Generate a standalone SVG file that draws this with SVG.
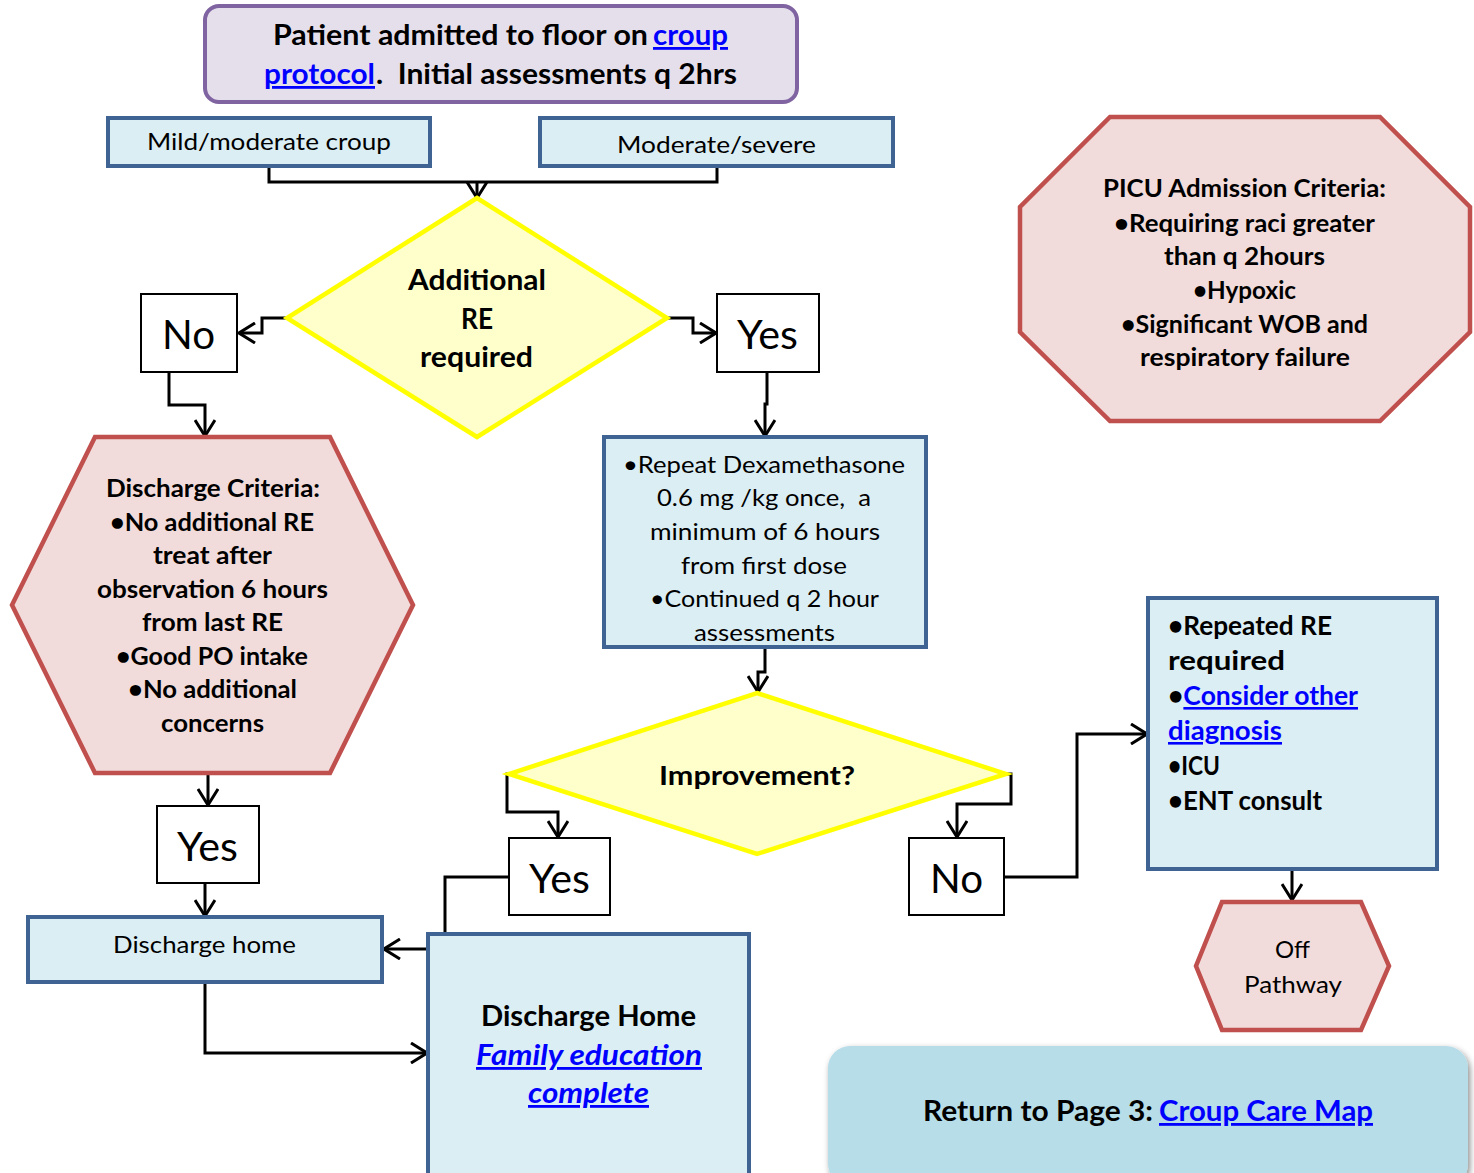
<svg xmlns="http://www.w3.org/2000/svg" width="1474" height="1173" viewBox="0 0 1474 1173">
<style>
text{font-family:Lato,"Open Sans","Liberation Sans",sans-serif;fill:#000}
.b{font-weight:bold}
.lnk{fill:#0000ff;text-decoration:underline}
.blue{fill:#dbeef4;stroke:#3f6392;stroke-width:4}
.pink{fill:#f2dcdb;stroke:#c0504d;stroke-width:4.5}
.dia{fill:#ffffcc;stroke:#ffff00;stroke-width:4.5}
.lab{fill:#fff;stroke:#000;stroke-width:2}
.c{fill:none;stroke:#000;stroke-width:3}
.m{fill:none;stroke:#000;stroke-width:3;marker-end:url(#arr)}
</style>
<defs>
<marker id="arr" viewBox="0 0 18 22" refX="17" refY="11" markerWidth="18" markerHeight="22" orient="auto" markerUnits="userSpaceOnUse">
<path d="M1,1 L17,11 L1,21" fill="none" stroke="#000" stroke-width="3"/>
</marker>
<filter id="sh" x="-5%" y="-10%" width="110%" height="130%">
<feDropShadow dx="2" dy="3" stdDeviation="3" flood-color="#000" flood-opacity="0.45"/>
</filter>
</defs>

<g id="connectors">
<path class="c" d="M269,166 V182 H717 V166"/>
<path class="m" d="M477,182 V198"/>
<path class="m" d="M287,318 H262 V333 H239"/>
<path class="m" d="M667,318 H693 V333 H716"/>
<path class="m" d="M169,372 V405 H205 V436"/>
<path class="m" d="M767,372 V404 H765 V436"/>
<path class="m" d="M765,647 V672 H758 V692"/>
<path class="m" d="M509,774 H507 V812 H558 V837"/>
<path class="m" d="M1006,774 H1011 V804 H957 V837"/>
<path class="m" d="M208,773 V805"/>
<path class="m" d="M205,883 V916"/>
<path class="m" d="M509,877 H445 V949 H384"/>
<path class="m" d="M205,982 V1053 H427"/>
<path class="m" d="M1004,877 H1077 V734 H1147"/>
<path class="m" d="M1292,869 V900"/>
</g>

<g id="top">
<rect x="205" y="6" width="592" height="96" rx="14" fill="#e5dfec" stroke="#8064a2" stroke-width="4"/>
<text class="b" font-size="28" x="273" y="45" textLength="375" lengthAdjust="spacingAndGlyphs">Patient admitted to floor on</text>
<text class="b lnk" font-size="28" x="653" y="45" textLength="75" lengthAdjust="spacingAndGlyphs">croup</text>
<text class="b lnk" font-size="28" x="264" y="84" textLength="111" lengthAdjust="spacingAndGlyphs">protocol</text>
<text class="b" font-size="28" x="376" y="84" textLength="361" lengthAdjust="spacingAndGlyphs" xml:space="preserve">.  Initial assessments q 2hrs</text>
</g>

<g id="mild">
<rect class="blue" x="108" y="118" width="322" height="48"/>
<text font-size="24" x="147" y="150" textLength="244" lengthAdjust="spacingAndGlyphs">Mild/moderate croup</text>
</g>
<g id="severe">
<rect class="blue" x="540" y="118" width="353" height="48"/>
<text font-size="24" x="617" y="153" textLength="199" lengthAdjust="spacingAndGlyphs">Moderate/severe</text>
</g>

<g id="diamond1">
<polygon class="dia" points="477,198 667,318 477,437 287,318"/>
<text class="b" font-size="28" x="408" y="290" textLength="138" lengthAdjust="spacingAndGlyphs">Additional</text>
<text class="b" font-size="28" x="461" y="329" textLength="32" lengthAdjust="spacingAndGlyphs">RE</text>
<text class="b" font-size="28" x="420" y="367" textLength="113" lengthAdjust="spacingAndGlyphs">required</text>
</g>

<g id="no1">
<rect class="lab" x="141" y="294" width="96" height="78"/>
<text font-size="40" x="162" y="349" textLength="53" lengthAdjust="spacingAndGlyphs">No</text>
</g>
<g id="yes1">
<rect class="lab" x="717" y="294" width="102" height="78"/>
<text font-size="40" x="737" y="349" textLength="61" lengthAdjust="spacingAndGlyphs">Yes</text>
</g>

<g id="discharge-criteria">
<polygon class="pink" points="95,437 330,437 413,605 330,773 95,773 12,605"/>
<text class="b" font-size="24" x="106" y="497" textLength="214" lengthAdjust="spacingAndGlyphs">Discharge Criteria:</text>
<text class="b" font-size="24" x="110" y="531" textLength="204" lengthAdjust="spacingAndGlyphs">•No additional RE</text>
<text class="b" font-size="24" x="153" y="564" textLength="119" lengthAdjust="spacingAndGlyphs">treat after</text>
<text class="b" font-size="24" x="97" y="598" textLength="231" lengthAdjust="spacingAndGlyphs">observation 6 hours</text>
<text class="b" font-size="24" x="142" y="631" textLength="141" lengthAdjust="spacingAndGlyphs">from last RE</text>
<text class="b" font-size="24" x="116" y="665" textLength="192" lengthAdjust="spacingAndGlyphs">•Good PO intake</text>
<text class="b" font-size="24" x="128" y="698" textLength="169" lengthAdjust="spacingAndGlyphs">•No additional</text>
<text class="b" font-size="24" x="161" y="732" textLength="103" lengthAdjust="spacingAndGlyphs">concerns</text>
</g>

<g id="dexamethasone">
<rect class="blue" x="604" y="437" width="322" height="210"/>
<text font-size="24" x="623" y="473" textLength="282" lengthAdjust="spacingAndGlyphs">•Repeat Dexamethasone</text>
<text font-size="24" x="657" y="506" textLength="214" lengthAdjust="spacingAndGlyphs" xml:space="preserve">0.6 mg /kg once,  a</text>
<text font-size="24" x="650" y="540" textLength="230" lengthAdjust="spacingAndGlyphs">minimum of 6 hours</text>
<text font-size="24" x="681" y="574" textLength="166" lengthAdjust="spacingAndGlyphs">from first dose</text>
<text font-size="24" x="650" y="607" textLength="229" lengthAdjust="spacingAndGlyphs">•Continued q 2 hour</text>
<text font-size="24" x="694" y="641" textLength="141" lengthAdjust="spacingAndGlyphs">assessments</text>
</g>

<g id="diamond2">
<polygon class="dia" points="757,693 1006,774 757,854 509,774"/>
<text class="b" font-size="27" x="659" y="785" textLength="196" lengthAdjust="spacingAndGlyphs">Improvement?</text>
</g>

<g id="yes2">
<rect class="lab" x="509" y="838" width="101" height="77"/>
<text font-size="40" x="529" y="893" textLength="61" lengthAdjust="spacingAndGlyphs">Yes</text>
</g>
<g id="no2">
<rect class="lab" x="909" y="838" width="95" height="77"/>
<text font-size="40" x="930" y="893" textLength="53" lengthAdjust="spacingAndGlyphs">No</text>
</g>
<g id="yes3">
<rect class="lab" x="157" y="806" width="102" height="77"/>
<text font-size="40" x="177" y="861" textLength="61" lengthAdjust="spacingAndGlyphs">Yes</text>
</g>

<g id="discharge-home">
<rect class="blue" x="28" y="917" width="354" height="65"/>
<text font-size="24" x="113" y="953" textLength="183" lengthAdjust="spacingAndGlyphs">Discharge home</text>
</g>

<g id="discharge-home-final">
<rect class="blue" x="428" y="934" width="321" height="250"/>
<text class="b" font-size="28" x="481" y="1026" textLength="215" lengthAdjust="spacingAndGlyphs">Discharge Home</text>
<text class="b lnk" font-size="28" font-style="italic" x="476" y="1065" textLength="226" lengthAdjust="spacingAndGlyphs">Family education</text>
<text class="b lnk" font-size="28" font-style="italic" x="528" y="1103" textLength="121" lengthAdjust="spacingAndGlyphs">complete</text>
</g>

<g id="repeated-re">
<rect class="blue" x="1148" y="598" width="289" height="271"/>
<text class="b" font-size="26" x="1168" y="635" textLength="164" lengthAdjust="spacingAndGlyphs">•Repeated RE</text>
<text class="b" font-size="26" x="1168" y="670" textLength="117" lengthAdjust="spacingAndGlyphs">required</text>
<text class="b" font-size="26" x="1168" y="705" textLength="190" lengthAdjust="spacingAndGlyphs">•<tspan class="lnk">Consider other</tspan></text>
<text class="b lnk" font-size="26" x="1168" y="740" textLength="114" lengthAdjust="spacingAndGlyphs">diagnosis</text>
<text class="b" font-size="26" x="1168" y="775" textLength="52" lengthAdjust="spacingAndGlyphs">•ICU</text>
<text class="b" font-size="26" x="1168" y="810" textLength="154" lengthAdjust="spacingAndGlyphs">•ENT consult</text>
</g>

<g id="off-pathway">
<polygon class="pink" points="1222,902 1361,902 1389,966 1361,1030 1222,1030 1196,966"/>
<text font-size="24" x="1275" y="958" textLength="35" lengthAdjust="spacingAndGlyphs">Off</text>
<text font-size="24" x="1244" y="993" textLength="98" lengthAdjust="spacingAndGlyphs">Pathway</text>
</g>

<g id="picu">
<polygon class="pink" points="1110,117 1380,117 1470,207 1470,332 1380,421 1110,421 1020,332 1020,207"/>
<text class="b" font-size="24" x="1103" y="197" textLength="283" lengthAdjust="spacingAndGlyphs">PICU Admission Criteria:</text>
<text class="b" font-size="24" x="1114" y="232" textLength="261" lengthAdjust="spacingAndGlyphs">•Requiring raci greater</text>
<text class="b" font-size="24" x="1164" y="265" textLength="161" lengthAdjust="spacingAndGlyphs">than q 2hours</text>
<text class="b" font-size="24" x="1193" y="299" textLength="103" lengthAdjust="spacingAndGlyphs">•Hypoxic</text>
<text class="b" font-size="24" x="1121" y="333" textLength="247" lengthAdjust="spacingAndGlyphs">•Significant WOB and</text>
<text class="b" font-size="24" x="1140" y="366" textLength="210" lengthAdjust="spacingAndGlyphs">respiratory failure</text>
</g>

<g id="return">
<rect x="828" y="1046" width="640" height="140" rx="22" fill="#b7dde8" filter="url(#sh)"/>
<text class="b" font-size="28" x="923" y="1121" textLength="230" lengthAdjust="spacingAndGlyphs">Return to Page 3:</text>
<text class="b lnk" font-size="28" x="1159" y="1121" textLength="214" lengthAdjust="spacingAndGlyphs">Croup Care Map</text>
</g>
</svg>
